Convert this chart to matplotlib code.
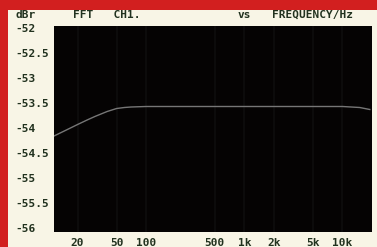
import matplotlib
matplotlib.use("Agg")
import matplotlib.pyplot as plt
from matplotlib.patches import Rectangle
import numpy as np

# data
freq_hz = [11.5, 15, 20, 25, 30, 40, 50, 60, 70, 100, 200, 500, 1000, 2000, 5000, 10000, 15000, 19000]
level_dbr = [-54.16, -54.05, -53.93, -53.84, -53.77, -53.67, -53.61, -53.59, -53.58, -53.57, -53.57,
             -53.57, -53.57, -53.57, -53.57, -53.57, -53.59, -53.63]
x_ticks = [20, 50, 100, 500, 1000, 2000, 5000, 10000]
x_labels = ["20", "50", "100", "500", "1k", "2k", "5k", "10k"]
y_ticks = [-52, -52.5, -53, -53.5, -54, -54.5, -55, -55.5, -56]
y_labels = ["-52", "-52.5", "-53", "-53.5", "-54", "-54.5", "-55", "-55.5", "-56"]

W, H = 377, 247
fig = plt.figure(figsize=(W / 100, H / 100), dpi=100)
fig.patch.set_facecolor("#d21f1f")
fig.patches.append(Rectangle((8 / W, 0), 1 - 8 / W, (H - 10) / H, transform=fig.transFigure,
                             facecolor="#f8f5e6", edgecolor="none", zorder=-5))

ax = fig.add_axes([54 / W, 15 / H, 318 / W, 206 / H])
ax.set_zorder(2)
ax.set_facecolor("#050303")
ax.set_xscale("log")
ax.set_xlim(11.5, 20000)
ax.set_ylim(-56.08, -51.96)

for xt in x_ticks:
    ax.axvline(xt, color="#0c0b0b", lw=1.5, zorder=1)

ax.plot(freq_hz, level_dbr, color="#767676", lw=1.0, zorder=3)

ax.set_xticks(x_ticks)
ax.set_xticklabels(x_labels)
ax.xaxis.set_minor_locator(matplotlib.ticker.NullLocator())
ax.set_yticks(y_ticks)
ax.set_yticklabels(y_labels)
txtcol = "#22321f"
ax.tick_params(axis="both", length=0, labelsize=8, labelcolor=txtcol)
ax.tick_params(axis="x", pad=4)
ax.tick_params(axis="y", pad=28)
for lbl in ax.get_yticklabels():
    lbl.set_horizontalalignment("left")
    lbl.set_fontfamily("DejaVu Sans Mono")
    lbl.set_fontweight("bold")
for lbl in ax.get_xticklabels():
    lbl.set_fontfamily("DejaVu Sans Mono")
    lbl.set_fontweight("bold")
for s in ax.spines.values():
    s.set_visible(False)

kw = dict(fontsize=8, fontfamily="DejaVu Sans Mono", fontweight="bold", color=txtcol,
          va="center", ha="left", transform=fig.transFigure)
fig.text(15 / W, 1 - 15 / H, "dBr", **kw)
fig.text(73 / W, 1 - 15 / H, "FFT   CH1.", **kw)
fig.text(238 / W, 1 - 15 / H, "vs", **kw)
fig.text(272 / W, 1 - 15 / H, "FREQUENCY/Hz", **kw)

fig.savefig("out.png", dpi=100, facecolor=fig.get_facecolor())
